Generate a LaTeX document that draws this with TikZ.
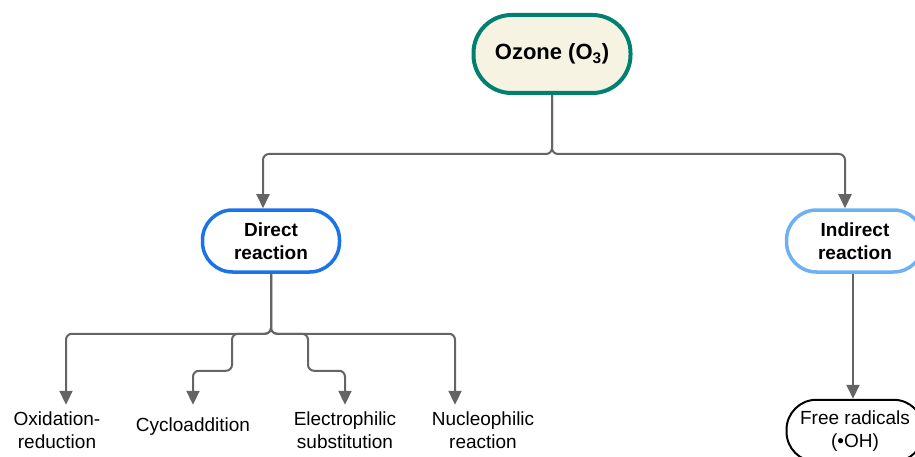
\documentclass[tikz,border=0pt]{standalone}
\usepackage{fontspec}
\setmainfont{Liberation Sans}
\usetikzlibrary{arrows.meta,positioning}
\definecolor{ozoneteal} {RGB} {0,128,110}
\definecolor{ozonecream} {RGB} {247,243,227}
\definecolor{directblue} {RGB} {26,115,232}
\definecolor{indirectblue} {RGB} {110,176,244}
\definecolor{linkgrey} {RGB} {100,100,100}

\begin{document}
\begin{tikzpicture}[x=1pt,y=-1pt,
        pill/.style={draw, fill=white, rounded corners=30pt, minimum width=137pt, minimum height=62pt, align=center, font=\fontsize{19}{23}\selectfont\bfseries},
        leaf/.style={align=center, inner sep=0pt, minimum height=50pt, font=\fontsize{19}{23}\selectfont},
        link/.style={draw=linkgrey, line width=2pt, rounded corners=6pt, -{Triangle[length=14pt,width=13pt]}}]
        \useasboundingbox (0,0) rectangle (915,457);
        \node[pill, draw=ozoneteal, fill=ozonecream, line width=4pt, minimum width=157pt, minimum height=78pt, rounded corners=38pt, font=\fontsize{22}{26}\selectfont\bfseries] (ozone) at (552,54) {Ozone (O\textsubscript{3})};
        \node[pill, draw=directblue, line width=3.5pt] (direct) at (271,241) {Direct\\reaction};
        \node[pill, draw=indirectblue, line width=3.5pt] (indirect) at (855,241) {Indirect\\reaction};
        \node[pill, draw=black, line width=2pt, font=\fontsize{19}{23}\selectfont, below=125pt of indirect] (radicals) {Free radicals\\(•OH)};
        \node[leaf] (oxid) at (57,430) {Oxidation-\\reduction};
        \node[leaf, minimum height=44pt] (cyclo) at (193,427) {Cycloaddition};
        \node[leaf] (electro) at (345,430) {Electrophilic\\substitution};
        \node[leaf] (nucleo) at (483,430) {Nucleophilic\\reaction};
        \draw[link] (ozone.south) -- ++(0,59) -| ([xshift=-8pt]direct.north);
        \draw[link] (ozone.south) -- ++(0,59) -| ([xshift=-10pt]indirect.north);
        \draw[link] (direct.south) -- ++(0,60) -| ([xshift=9pt]oxid.north);
        \draw[link] (direct.south) -- ++(0,60) -- ++(-39,0) -- ++(0,37) -| (cyclo.north);
        \draw[link] (direct.south) -- ++(0,60) -- ++(37,0) -- ++(0,37) -| (electro.north);
        \draw[link] (direct.south) -- ++(0,60) -| ([xshift=-28pt]nucleo.north);
        \draw[link] ([xshift=-2pt]indirect.south) -- ([xshift=-2pt]radicals.north);
\end{tikzpicture}
\end{document}
